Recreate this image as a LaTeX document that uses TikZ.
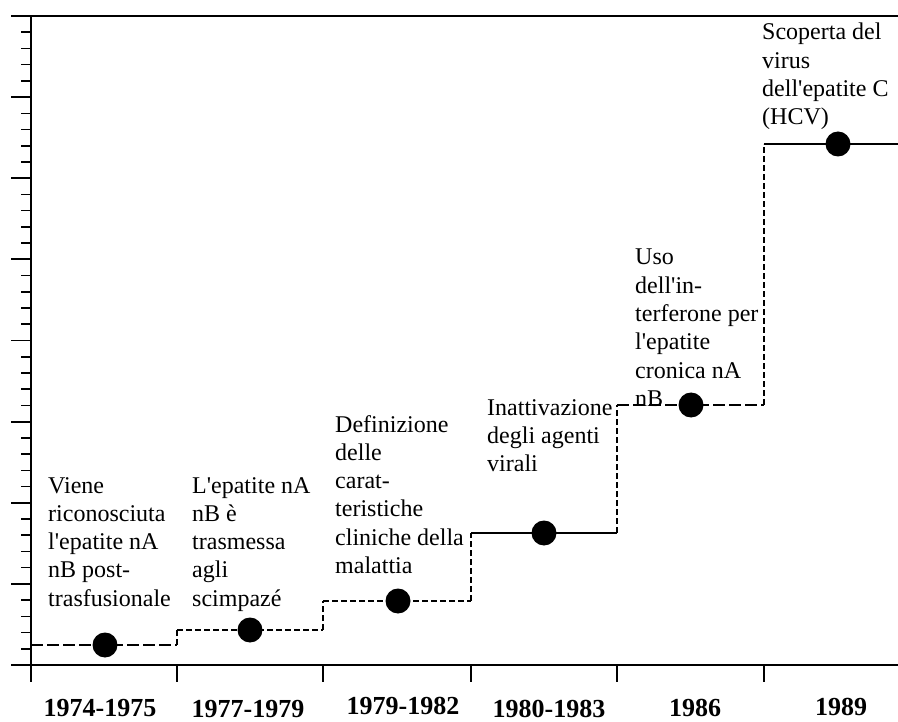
\documentclass[tikz,border=0pt]{standalone}
\usepackage{fontspec}
\setmainfont{Liberation Serif}
\newcommand{\sq}{\textquotesingle}
\begin{document}
\begin{tikzpicture}[x=1pt,y=-1pt,
  axis/.style={line width=1.8pt, black},
  tickmaj/.style={line width=1.8pt},
  tickmin/.style={line width=1.6pt},
  stepline/.style={line width=1.4pt},
  solidstep/.style={stepline},
  longdash/.style={stepline, dash pattern=on 12pt off 4pt},
  finedash/.style={stepline, dash pattern=on 6pt off 3pt},
  dot/.style={circle, fill=black, minimum size=25pt, inner sep=0pt},
  lbl/.style={anchor=base west, inner sep=0pt, font=\fontsize{24}{28.3}\selectfont},
  yr/.style={anchor=base, inner sep=0pt, font=\fontsize{26}{30}\selectfont\bfseries}]
\useasboundingbox (0,0) rectangle (898,722);

% axes
\coordinate (tl) at (11,16);
\coordinate (tr) at (898,16);
\coordinate (ytop) at (31,16);
\coordinate (ybot) at (31,682);
\coordinate (bl) at (11,665);
\coordinate (br) at (898,665);
\draw[axis] (tl) -- (tr);
\draw[axis] (ytop) -- (ybot);
\draw[axis] (bl) -- (br);

% y ticks
\foreach \k in {1,...,7} {
  \draw[tickmaj] (11,{16+\k*81.125}) -- (31,{16+\k*81.125});
}
\foreach \k in {0,...,7} {
  \foreach \m in {1,...,4} {
    \draw[tickmin] (21,{16+\k*81.125+\m*16.225}) -- (31,{16+\k*81.125+\m*16.225});
  }
}

% x ticks
\foreach \x in {177,323,471,617,764} {
  \draw[tickmaj] (\x,665) -- (\x,682);
}

% step line corners
\coordinate (p0) at (31,645);
\coordinate (p1) at (177,645);
\coordinate (p2) at (177,630);
\coordinate (p3) at (323,630);
\coordinate (p4) at (323,601);
\coordinate (p5) at (471,601);
\coordinate (p6) at (471,533);
\coordinate (p7) at (617,533);
\coordinate (p8) at (617,405);
\coordinate (p9) at (764,405);
\coordinate (p10) at (764,144);
\coordinate (p11) at (898,144);

\draw[longdash] (p0) -- (p1);
\draw[finedash] (p1) -- (p2);
\draw[finedash] (p2) -- (p3);
\draw[finedash] (p3) -- (p4);
\draw[finedash] (p4) -- (p5);
\draw[finedash] (p5) -- (p6);
\draw[solidstep] (p6) -- (p7);
\draw[finedash] (p7) -- (p8);
\draw[longdash] (p8) -- (p9);
\draw[finedash] (p9) -- (p10);
\draw[solidstep] (p10) -- (p11);

% labels
\node[lbl] (t1) at (48,493) {\begin{tabular}[t]{@{}l@{}}Viene\\riconosciuta\\l\sq{}epatite nA\\nB post-\\trasfusionale\end{tabular}};
\node[lbl] (t2) at (192,493) {\begin{tabular}[t]{@{}l@{}}L\sq{}epatite nA\\nB è\\trasmessa\\agli\\scimpazé\end{tabular}};
\node[lbl] (t3) at (335,432) {\begin{tabular}[t]{@{}l@{}}Definizione\\delle\\carat-\\teristiche\\cliniche della\\malattia\end{tabular}};
\node[lbl] (t4) at (487,415) {\begin{tabular}[t]{@{}l@{}}Inattivazione\\degli agenti\\virali\end{tabular}};
\node[lbl] (t5) at (635,265) {\begin{tabular}[t]{@{}l@{}}Uso\\dell\sq{}in-\\terferone per\\l\sq{}epatite\\cronica nA\\nB\end{tabular}};
\node[lbl] (t6) at (762,40) {\begin{tabular}[t]{@{}l@{}}Scoperta del\\virus\\dell\sq{}epatite C\\(HCV)\end{tabular}};

% dots
\node[dot] (d1) at (105,645) {};
\node[dot] (d2) at (250,630) {};
\node[dot] (d3) at (398,601) {};
\node[dot] (d4) at (544,533) {};
\node[dot] (d5) at (691,405) {};
\node[dot] (d6) at (838,144) {};

% years
\node[yr] (y1) at (100,716) {1974-1975};
\node[yr] (y2) at (248,717.5) {1977-1979};
\node[yr] (y3) at (403,714.5) {1979-1982};
\node[yr] (y4) at (549,717) {1980-1983};
\node[yr] (y5) at (695,716.5) {1986};
\node[yr] (y6) at (841,715.5) {1989};
\end{tikzpicture}
\end{document}
